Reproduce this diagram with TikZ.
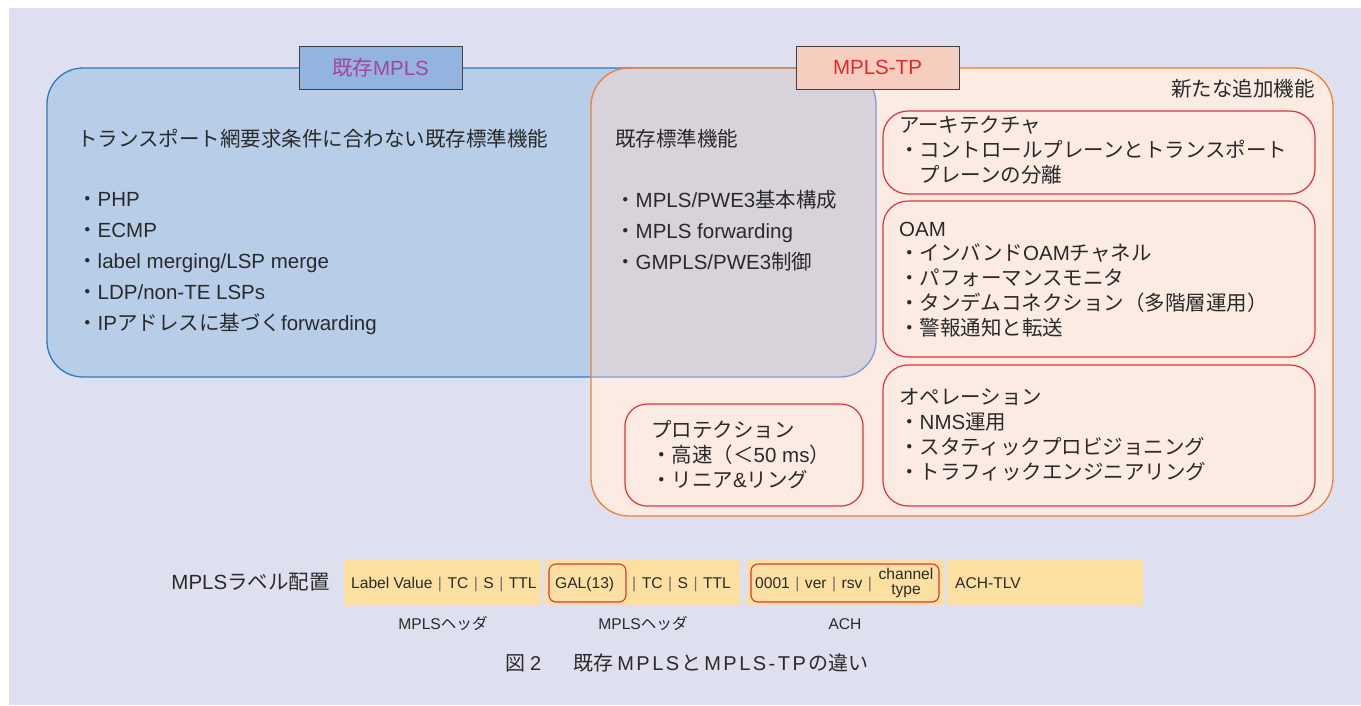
\documentclass[tikz,border=0pt]{standalone}
\usepackage{fontspec}
\setmainfont{Liberation Sans}
\newfontfamily\jpf{Noto Sans CJK JP}
\newcommand\JP[1]{{\jpf #1}}
\definecolor{bgc}{HTML}{DFE0EF}
\definecolor{bluef}{HTML}{B8CDE8}
\definecolor{blued}{HTML}{2B7BC0}
\definecolor{bluel}{HTML}{7D9CD1}
\definecolor{ovf}{HTML}{D8D3DB}
\definecolor{orf}{HTML}{FBEBE3}
\definecolor{ord}{HTML}{F07F33}
\definecolor{redc}{HTML}{E0343C}
\definecolor{tabbf}{HTML}{93B4DE}
\definecolor{tabbt}{HTML}{A4449C}
\definecolor{tabof}{HTML}{F5CEBF}
\definecolor{tabot}{HTML}{E2282D}
\definecolor{segc}{HTML}{FCE0A2}
\definecolor{txtc}{HTML}{2A2A2A}
\definecolor{sepc}{HTML}{707070}
\newcommand\sep{\hspace{5.5pt}\textcolor{sepc}{|}\hspace{5.5pt}}
\newcommand\lk{\kern2.5pt}
\tikzset{
  txt/.style={anchor=base west, inner sep=0pt, text=txtc, font=\fontsize{20.5}{25}\selectfont},
  small/.style={anchor=base west, inner sep=0pt, text=txtc, font=\fontsize{15.6}{15}\selectfont},
  inbox/.style={draw=redc, line width=1.2pt, fill=orf},
  tabbox/.style={draw=black!75, line width=1pt, minimum width=163pt, minimum height=43pt, inner sep=0pt, font=\fontsize{20.5}{25}\selectfont},
  segbox/.style={fill=segc, draw=none, minimum height=46pt, inner sep=0pt},
  redseg/.style={draw=redc, line width=1.1pt, fill=segc, rounded corners=7pt, minimum height=38pt, inner sep=0pt}
}
\begin{document}
\begin{tikzpicture}[x=1pt,y=-1pt]
\useasboundingbox (0,0) rectangle (1361,705);
\fill[white] (0,0) rectangle (1361,705);
\fill[bgc] (9,8) rectangle (1361,705);
% blue box
\draw[fill=bluef, draw=blued, line width=1.3pt, rounded corners=36pt] (47,68) rectangle (876,377);
% orange box fill
\fill[orf, rounded corners=38pt] (591,68) rectangle (1333,516);
% overlap
\begin{scope}
  \clip[rounded corners=36pt] (47,68) rectangle (876,377);
  \fill[ovf, rounded corners=38pt] (591,68) rectangle (1333,516);
\end{scope}
\begin{scope}
  \clip[rounded corners=38pt] (591,68) rectangle (1333,516);
  \draw[bluel, line width=1.3pt, rounded corners=36pt] (47,68) rectangle (876,377);
\end{scope}
\draw[ord, line width=1.3pt, rounded corners=38pt] (591,68) rectangle (1333,516);
% tabs
\node[tabbox, fill=tabbf, text=tabbt] (tab1) at (380.5,67.5) {\JP{既存}MPLS};
\node[tabbox, fill=tabof, text=tabot] (tab2) at (877.5,67.5) {MPLS-TP};
% inner boxes
\draw[inbox, rounded corners=25pt] (883,111) rectangle (1315,194);
\draw[inbox, rounded corners=25pt] (883,201) rectangle (1315,357);
\draw[inbox, rounded corners=25pt] (883,365) rectangle (1315,506);
\draw[inbox, rounded corners=22pt] (625,404) rectangle (863,506);
% blue box text
\node[txt] (b0) at (77,146.5) {\JP{トランスポート網要求条件に合わない既存標準機能}};
\node[txt] (b1) at (77,206.5) {\JP{・}PHP};
\node[txt] (b2) at (77,237.5) {\JP{・}ECMP};
\node[txt] (b3) at (77,268.5) {\JP{・}label merging/LSP merge};
\node[txt] (b4) at (77,299.5) {\JP{・}LDP/non-TE LSPs};
\node[txt] (b5) at (77,330.5) {\JP{・}IP\JP{アドレスに基づく}forwarding};
% overlap text
\node[txt] (o0) at (615,146.5) {\JP{既存標準機能}};
\node[txt] (o1) at (615,207.5) {\JP{・}MPLS/PWE3\JP{基本構成}};
\node[txt] (o2) at (615,238.5) {\JP{・}MPLS forwarding};
\node[txt] (o3) at (615,269.5) {\JP{・}GMPLS/PWE3\JP{制御}};
% new functions
\node[txt, anchor=base east] (nw) at (1315,96.5) {\JP{新たな追加機能}};
\node[txt] (a0) at (899,132.5) {\JP{アーキテクチャ}};
\node[txt] (a1) at (899,157.5) {\JP{・コントロールプレーンとトランスポート}};
\node[txt] (a2) at (919.5,182.5) {\JP{プレーンの分離}};
\node[txt] (m0) at (899,236.5) {OAM};
\node[txt] (m1) at (899,260.5) {\JP{・インバンド}OAM\JP{チャネル}};
\node[txt] (m2) at (899,285.5) {\JP{・パフォーマンスモニタ}};
\node[txt] (m3) at (899,310.5) {\JP{・タンデムコネクション（多階層運用）}};
\node[txt] (m4) at (899,335.5) {\JP{・警報通知と転送}};
\node[txt] (p0) at (899,404.5) {\JP{オペレーション}};
\node[txt] (p1) at (899,429.5) {\JP{・}NMS\JP{運用}};
\node[txt] (p2) at (899,454.5) {\JP{・スタティックプロビジョニング}};
\node[txt] (p3) at (899,479.5) {\JP{・トラフィックエンジニアリング}};
\node[txt] (r0) at (651,437.5) {\JP{プロテクション}};
\node[txt] (r1) at (651,462.5) {\JP{・高速（＜}50 ms\JP{）}};
\node[txt] (r2) at (651,487.5) {\JP{・リニア}\&\JP{リング}};
% label layout
\node[txt, anchor=base east] (lbl) at (330,589.5) {MPLS\JP{ラベル配置}};
\node[segbox, minimum width=197pt] (s1) at (442.5,583) {};
\node[segbox, minimum width=195pt] (s2) at (642.5,583) {};
\node[segbox, minimum width=197pt] (s3) at (845,583) {};
\node[segbox, minimum width=196pt] (s4) at (1045,583) {};
\node[small] (s1t) at (351,588.5) {Label Value\sep TC\sep S\sep TTL};
\node[redseg, minimum width=77pt] (gal) at (587.5,583) {};
\node[small] (galt) at (555,588.5) {GAL(13)};
\node[small] (s2t) at (632,588.5) {\textcolor{sepc}{|}\hspace{5.5pt}TC\sep S\sep TTL};
\node[redseg, minimum width=188pt] (ach) at (845,583) {};
\node[small] (s3t) at (755,588.5) {0001\sep ver\sep rsv\sep};
\node[small, anchor=center, align=center] (s3c) at (906,583) {channel\\type};
\node[small] (s4t) at (955,588.5) {ACH-TLV};
\node[small, anchor=base] (h1) at (443,629.5) {MPLS\JP{ヘッダ}};
\node[small, anchor=base] (h2) at (643,629.5) {MPLS\JP{ヘッダ}};
\node[small, anchor=base] (h3) at (845,629.5) {ACH};
% caption
\node[txt, anchor=base west, font=\fontsize{20}{24}\selectfont] (cap) at (505,670.5)
  {\JP{図}\hspace{5pt}2\hspace{32pt}\JP{既存}\hspace{4pt}M\lk P\lk L\lk S\lk\JP{と}\lk M\lk P\lk L\lk S\lk -\lk T\lk P\lk\JP{の違い}};
\end{tikzpicture}
\end{document}
